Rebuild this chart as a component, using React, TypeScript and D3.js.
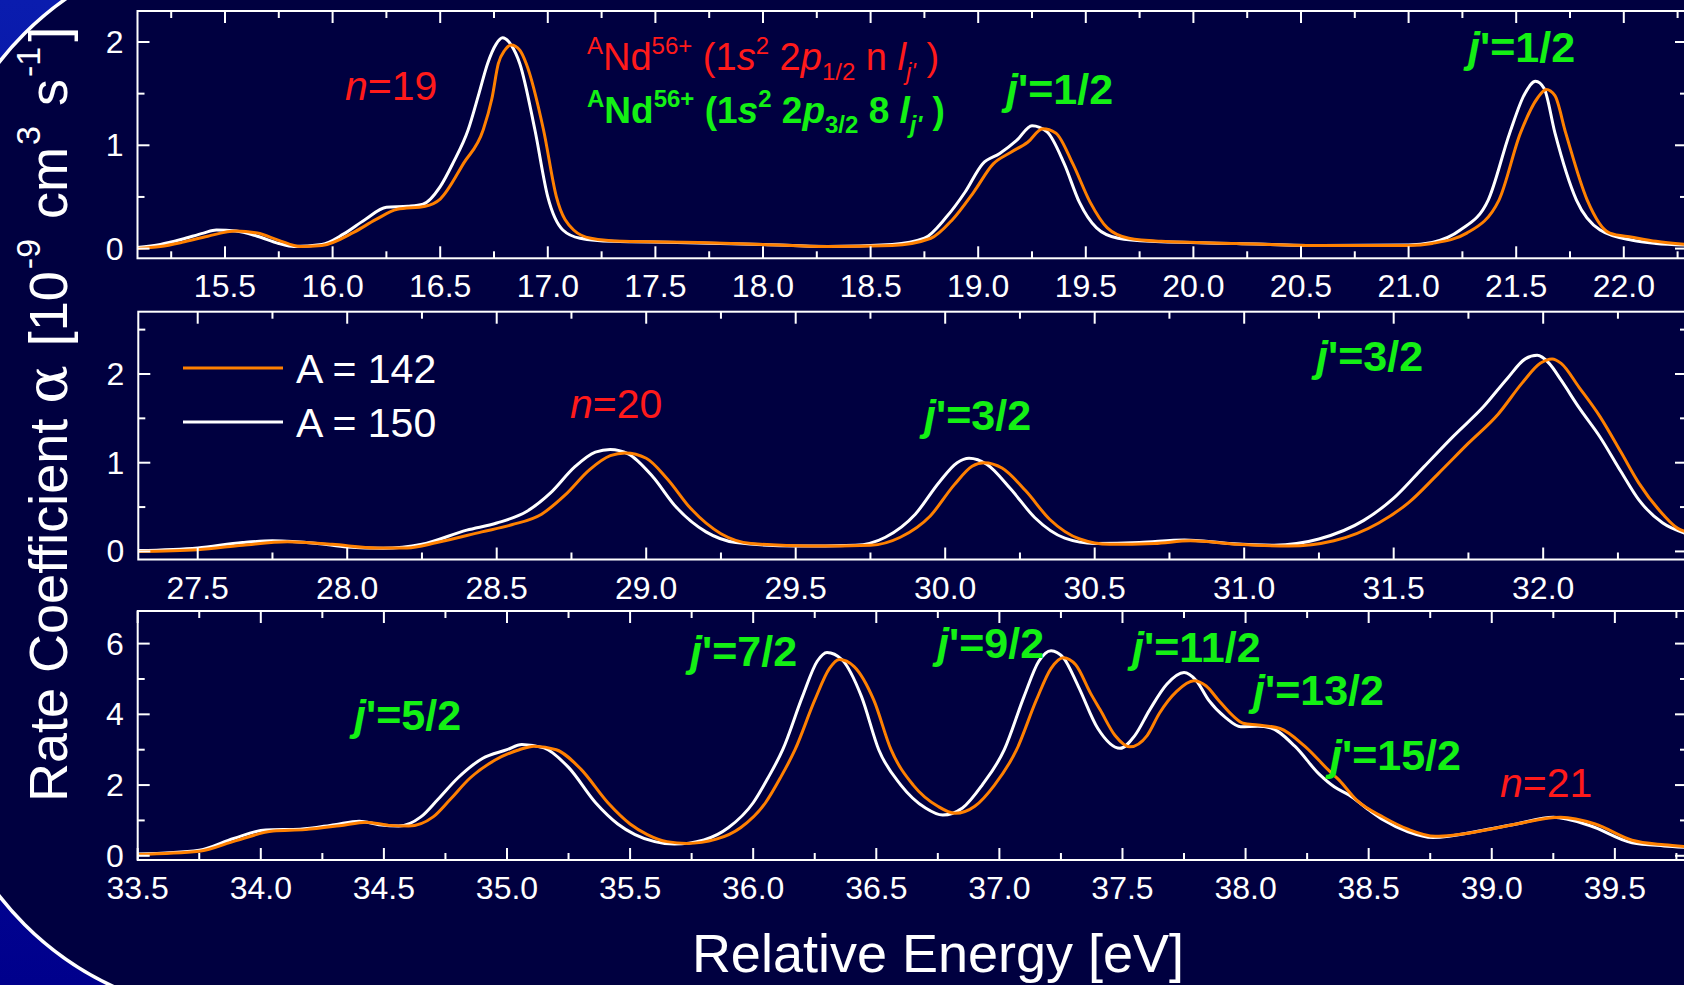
import React, { useEffect, useRef } from 'react';
import * as d3 from 'd3';

const W = 1684, H = 985;
const ORANGE = '#ff8000', RED = '#ff1a1a', GREEN = '#14f014', NAVY = '#000040';
const FONT = 'Liberation Sans, Arial, sans-serif';

// n=19 region  [energy eV, rate 1e-9 cm3/s]
const n19A142: [number, number][] = [[15.09, 0.0], [15.2, 0.02], [15.3, 0.06], [15.42, 0.12], [15.55, 0.17], [15.65, 0.15], [15.75, 0.08], [15.85, 0.02], [15.95, 0.03], [16.1, 0.16], [16.2, 0.28], [16.3, 0.38], [16.43, 0.41], [16.5, 0.48], [16.61, 0.83], [16.7, 1.15], [16.74, 1.45], [16.77, 1.79], [16.8, 1.92], [16.83, 1.97], [16.87, 1.92], [16.9, 1.79], [16.98, 1.15], [17.04, 0.5], [17.12, 0.18], [17.2, 0.1], [17.35, 0.07], [17.7, 0.06], [18.0, 0.04], [18.3, 0.02], [18.6, 0.03], [18.78, 0.1], [18.88, 0.28], [18.98, 0.55], [19.07, 0.82], [19.15, 0.93], [19.23, 1.03], [19.3, 1.16], [19.36, 1.12], [19.44, 0.82], [19.52, 0.45], [19.6, 0.2], [19.7, 0.1], [19.85, 0.07], [20.2, 0.05], [20.6, 0.03], [21.0, 0.03], [21.11, 0.05], [21.27, 0.15], [21.42, 0.47], [21.52, 1.12], [21.6, 1.46], [21.64, 1.54], [21.68, 1.48], [21.73, 1.12], [21.83, 0.47], [21.935, 0.15], [22.04, 0.11], [22.15, 0.07], [22.29, 0.04]];
const n19A150: [number, number][] = [[15.09, 0.01], [15.2, 0.04], [15.3, 0.09], [15.4, 0.15], [15.46, 0.18], [15.55, 0.17], [15.65, 0.12], [15.75, 0.05], [15.82, 0.02], [15.95, 0.04], [16.05, 0.14], [16.15, 0.28], [16.25, 0.4], [16.35, 0.41], [16.42, 0.43], [16.5, 0.6], [16.56, 0.83], [16.63, 1.15], [16.68, 1.5], [16.72, 1.79], [16.76, 1.98], [16.79, 2.04], [16.83, 1.97], [16.87, 1.79], [16.94, 1.15], [17.0, 0.5], [17.07, 0.18], [17.15, 0.1], [17.3, 0.07], [17.6, 0.06], [18.0, 0.04], [18.3, 0.02], [18.6, 0.04], [18.75, 0.1], [18.85, 0.3], [18.94, 0.55], [19.02, 0.82], [19.1, 0.92], [19.18, 1.05], [19.25, 1.19], [19.32, 1.13], [19.4, 0.82], [19.47, 0.45], [19.55, 0.2], [19.65, 0.1], [19.8, 0.07], [20.2, 0.05], [20.6, 0.03], [21.0, 0.035], [21.11, 0.06], [21.24, 0.18], [21.37, 0.47], [21.47, 1.12], [21.54, 1.5], [21.59, 1.62], [21.63, 1.55], [21.68, 1.12], [21.78, 0.47], [21.89, 0.18], [22.04, 0.08], [22.15, 0.05], [22.29, 0.035]];

// n=20 region
const n20A142: [number, number][] = [[27.3, 0.0], [27.5, 0.02], [27.65, 0.07], [27.8, 0.11], [27.95, 0.08], [28.1, 0.04], [28.2, 0.04], [28.3, 0.1], [28.45, 0.22], [28.55, 0.3], [28.65, 0.42], [28.73, 0.64], [28.81, 0.92], [28.88, 1.08], [28.93, 1.11], [29.0, 1.05], [29.07, 0.82], [29.15, 0.48], [29.25, 0.2], [29.35, 0.09], [29.55, 0.06], [29.75, 0.07], [29.85, 0.16], [29.95, 0.4], [30.03, 0.75], [30.09, 0.96], [30.13, 1.0], [30.19, 0.94], [30.27, 0.68], [30.35, 0.36], [30.45, 0.14], [30.55, 0.08], [30.7, 0.09], [30.82, 0.12], [30.98, 0.08], [31.15, 0.06], [31.3, 0.12], [31.45, 0.32], [31.55, 0.55], [31.65, 0.88], [31.75, 1.22], [31.85, 1.55], [31.93, 1.9], [31.99, 2.12], [32.03, 2.17], [32.06, 2.12], [32.12, 1.85], [32.19, 1.52], [32.26, 1.12], [32.32, 0.77], [32.4, 0.42], [32.45, 0.26], [32.48, 0.22]];
const n20A150: [number, number][] = [[27.3, 0.01], [27.5, 0.04], [27.65, 0.1], [27.75, 0.12], [27.9, 0.09], [28.0, 0.05], [28.12, 0.035], [28.25, 0.08], [28.4, 0.24], [28.5, 0.32], [28.6, 0.45], [28.68, 0.66], [28.76, 0.95], [28.83, 1.12], [28.88, 1.15], [28.94, 1.1], [29.02, 0.85], [29.1, 0.5], [29.2, 0.22], [29.3, 0.1], [29.5, 0.06], [29.7, 0.07], [29.8, 0.16], [29.9, 0.42], [29.98, 0.78], [30.04, 1.0], [30.08, 1.05], [30.14, 0.98], [30.22, 0.7], [30.3, 0.38], [30.4, 0.15], [30.5, 0.09], [30.65, 0.1], [30.8, 0.13], [30.95, 0.09], [31.1, 0.07], [31.25, 0.14], [31.4, 0.35], [31.5, 0.6], [31.6, 0.95], [31.7, 1.3], [31.8, 1.63], [31.88, 1.95], [31.94, 2.17], [31.98, 2.21], [32.02, 2.12], [32.06, 1.93], [32.12, 1.62], [32.19, 1.29], [32.26, 0.9], [32.32, 0.58], [32.4, 0.32], [32.48, 0.2]];

// n=8 (2p3/2) + n=21 region
const n21A142: [number, number][] = [[33.5, 0.04], [33.75, 0.13], [33.9, 0.43], [34.05, 0.7], [34.18, 0.74], [34.32, 0.85], [34.43, 0.95], [34.52, 0.86], [34.6, 0.84], [34.7, 1.1], [34.77, 1.6], [34.85, 2.2], [34.95, 2.7], [35.05, 3.0], [35.11, 3.1], [35.2, 3.0], [35.3, 2.45], [35.41, 1.5], [35.5, 0.9], [35.57, 0.6], [35.65, 0.4], [35.73, 0.35], [35.85, 0.47], [35.95, 0.8], [36.05, 1.5], [36.11, 2.2], [36.17, 3.0], [36.25, 4.4], [36.31, 5.3], [36.35, 5.55], [36.41, 5.35], [36.49, 4.4], [36.56, 3.0], [36.65, 2.0], [36.75, 1.4], [36.82, 1.2], [36.9, 1.4], [36.98, 2.0], [37.07, 3.0], [37.15, 4.4], [37.21, 5.3], [37.26, 5.6], [37.31, 5.4], [37.37, 4.6], [37.41, 4.12], [37.47, 3.4], [37.53, 3.08], [37.6, 3.4], [37.65, 4.03], [37.72, 4.65], [37.79, 4.95], [37.84, 4.8], [37.89, 4.4], [37.95, 3.95], [37.99, 3.75], [38.05, 3.7], [38.14, 3.6], [38.24, 3.1], [38.34, 2.4], [38.38, 2.14], [38.45, 1.58], [38.56, 1.09], [38.66, 0.75], [38.77, 0.55], [38.97, 0.72], [39.1, 0.9], [39.28, 1.09], [39.42, 0.9], [39.57, 0.44], [39.7, 0.31], [39.79, 0.26]];
const n21A150: [number, number][] = [[33.5, 0.05], [33.75, 0.16], [33.89, 0.49], [34.02, 0.73], [34.16, 0.75], [34.3, 0.88], [34.4, 0.98], [34.48, 0.88], [34.56, 0.84], [34.65, 1.1], [34.72, 1.6], [34.8, 2.2], [34.9, 2.75], [35.0, 3.0], [35.06, 3.15], [35.15, 3.05], [35.25, 2.5], [35.36, 1.5], [35.45, 0.9], [35.52, 0.6], [35.6, 0.4], [35.68, 0.33], [35.8, 0.45], [35.9, 0.8], [36.0, 1.5], [36.06, 2.2], [36.12, 3.0], [36.2, 4.5], [36.26, 5.5], [36.3, 5.75], [36.36, 5.55], [36.44, 4.5], [36.51, 3.0], [36.6, 2.0], [36.7, 1.35], [36.77, 1.15], [36.85, 1.35], [36.93, 2.0], [37.02, 3.0], [37.1, 4.5], [37.16, 5.5], [37.21, 5.8], [37.26, 5.6], [37.32, 4.8], [37.4, 3.6], [37.49, 3.04], [37.55, 3.4], [37.61, 4.12], [37.68, 4.85], [37.75, 5.18], [37.8, 4.95], [37.85, 4.4], [37.92, 3.9], [37.98, 3.65], [38.05, 3.66], [38.1, 3.62], [38.2, 3.1], [38.3, 2.3], [38.36, 1.95], [38.42, 1.72], [38.5, 1.3], [38.56, 1.01], [38.66, 0.68], [38.76, 0.52], [38.97, 0.73], [39.1, 0.9], [39.25, 1.09], [39.4, 0.85], [39.57, 0.37], [39.7, 0.28], [39.79, 0.24]];

const topYLabels = [0, 1, 2], topYMinor = [0.5, 1.5];
const midYLabels = [0, 1, 2], midYMinor = [0.5, 1.5, 2.5];
const botYLabels = [0, 2, 4, 6], botYMinor = [1, 3, 5];

const panels = [
  { x0: 137.5, x1: 1687, y0: 11, y1: 258.3, xd: [15.0934, 22.2937], yd: [-0.094, 2.3], yLab: topYLabels, yMin: topYMinor, a142: n19A142, a150: n19A150 },
  { x0: 138.3, x1: 1687, y0: 311.7, y1: 559.5, xd: [27.3013, 32.481], yd: [-0.091, 2.702], yLab: midYLabels, yMin: midYMinor, a142: n20A142, a150: n20A150 },
  { x0: 137.7, x1: 1687, y0: 611, y1: 860, xd: [33.5, 39.793], yd: [-0.119, 6.922], yLab: botYLabels, yMin: botYMinor, a142: n21A142, a150: n21A150 },
];

function jLabel(g: any, x: number, y: number, frac: string) {
  const t = g.append('text').attr('x', x).attr('y', y).attr('fill', GREEN)
    .attr('font-size', 43).attr('font-weight', 'bold').attr('font-family', FONT);
  t.append('tspan').attr('font-style', 'italic').text('j');
  t.append('tspan').text("'=" + frac);
}

function nLabel(g: any, x: number, y: number, n: string) {
  const t = g.append('text').attr('x', x).attr('y', y).attr('fill', RED)
    .attr('font-size', 41).attr('font-family', FONT);
  t.append('tspan').attr('font-style', 'italic').text('n');
  t.append('tspan').text('=' + n);
}

export default function App() {
  const ref = useRef<SVGSVGElement>(null);

  useEffect(() => {
    const svg = d3.select(ref.current);
    svg.selectAll('*').remove();

    const defs = svg.append('defs');
    const grad = defs.append('linearGradient').attr('id', 'bg').attr('x1', 0).attr('y1', 0).attr('x2', 0).attr('y2', 1);
    grad.append('stop').attr('offset', '0%').attr('stop-color', '#0a1cae');
    grad.append('stop').attr('offset', '100%').attr('stop-color', '#00008c');

    // slide background with rounded frame
    svg.append('rect').attr('width', W).attr('height', H).attr('fill', 'url(#bg)');
    svg.append('rect').attr('x', -66).attr('y', -57).attr('width', W + 400).attr('height', 1072)
      .attr('rx', 309).attr('ry', 309).attr('fill', NAVY).attr('stroke', 'white').attr('stroke-width', 3.5);

    panels.forEach((p, i) => {
      const x = d3.scaleLinear().domain(p.xd).range([p.x0, p.x1]);
      const y = d3.scaleLinear().domain(p.yd).range([p.y1, p.y0]);
      const g = svg.append('g');

      defs.append('clipPath').attr('id', 'clip' + i).append('rect')
        .attr('x', p.x0).attr('y', p.y0).attr('width', p.x1 - p.x0).attr('height', p.y1 - p.y0);

      const line = d3.line<[number, number]>().x(d => x(d[0])).y(d => y(d[1])).curve(d3.curveMonotoneX);
      const cg = g.append('g').attr('clip-path', `url(#clip${i})`);
      cg.append('path').attr('d', line(p.a150)).attr('fill', 'none').attr('stroke', 'white').attr('stroke-width', 3);
      cg.append('path').attr('d', line(p.a142)).attr('fill', 'none').attr('stroke', ORANGE).attr('stroke-width', 3);

      // frame
      g.append('rect').attr('x', p.x0).attr('y', p.y0).attr('width', p.x1 - p.x0).attr('height', p.y1 - p.y0)
        .attr('fill', 'none').attr('stroke', 'white').attr('stroke-width', 2);

      const lo = p.xd[0], hi = p.xd[1];
      const xMajor = d3.range(Math.ceil(lo * 2) / 2, hi + 1e-6, 0.5);
      const xMinor = d3.range(Math.ceil(lo * 4) / 4, hi + 1e-6, 0.25).filter(v => Math.abs(v * 2 - Math.round(v * 2)) > 1e-6);

      const tick = (x1: number, y1: number, x2: number, y2: number) =>
        g.append('line').attr('x1', x1).attr('y1', y1).attr('x2', x2).attr('y2', y2)
          .attr('stroke', 'white').attr('stroke-width', 2);

      xMajor.forEach(v => { tick(x(v), p.y1, x(v), p.y1 - 12); tick(x(v), p.y0, x(v), p.y0 + 12); });
      xMinor.forEach(v => { tick(x(v), p.y1, x(v), p.y1 - 7); tick(x(v), p.y0, x(v), p.y0 + 7); });
      p.yLab.forEach(v => { tick(p.x0, y(v), p.x0 + 12, y(v)); tick(p.x1, y(v), p.x1 - 12, y(v)); });
      p.yMin.forEach(v => { tick(p.x0, y(v), p.x0 + 7, y(v)); tick(p.x1, y(v), p.x1 - 7, y(v)); });

      g.selectAll('.xl').data(xMajor).enter().append('text')
        .attr('x', d => x(d)).attr('y', p.y1 + 39).attr('text-anchor', 'middle')
        .attr('fill', 'white').attr('font-size', 32).attr('font-family', FONT)
        .text(d => d3.format('.1f')(d));

      g.selectAll('.yl').data(p.yLab).enter().append('text')
        .attr('x', p.x0 - 14).attr('y', d => y(d) + 11).attr('text-anchor', 'end')
        .attr('fill', 'white').attr('font-size', 32).attr('font-family', FONT)
        .text(d => String(d));
    });

    // legend
    const lg = svg.append('g');
    lg.append('line').attr('x1', 183).attr('x2', 283).attr('y1', 368).attr('y2', 368).attr('stroke', ORANGE).attr('stroke-width', 3);
    lg.append('line').attr('x1', 183).attr('x2', 283).attr('y1', 422).attr('y2', 422).attr('stroke', 'white').attr('stroke-width', 3);
    lg.append('text').attr('x', 296).attr('y', 383).attr('fill', 'white').attr('font-size', 41).attr('font-family', FONT).text('A = 142');
    lg.append('text').attr('x', 296).attr('y', 437).attr('fill', 'white').attr('font-size', 41).attr('font-family', FONT).text('A = 150');

    // title lines
    const title = (yb: number, color: string, bold: boolean, fs: number, sub: string, nn: string) => {
      const ss = Math.round(fs * 0.64);
      const t = svg.append('text').attr('x', 587).attr('y', yb).attr('fill', color)
        .attr('font-size', fs).attr('font-family', FONT).attr('font-weight', bold ? 'bold' : 'normal');
      t.append('tspan').attr('font-size', ss).attr('dy', -16).text('A');
      t.append('tspan').attr('dy', 16).text('Nd');
      t.append('tspan').attr('font-size', ss).attr('dy', -16).text('56+');
      t.append('tspan').attr('dy', 16).text(' (1');
      t.append('tspan').attr('font-style', 'italic').text('s');
      t.append('tspan').attr('font-size', ss).attr('dy', -16).text('2');
      t.append('tspan').attr('dy', 16).text(' 2');
      t.append('tspan').attr('font-style', 'italic').text('p');
      t.append('tspan').attr('font-size', ss).attr('dy', 10).text(sub);
      t.append('tspan').attr('dy', -10).text(' ' + nn + ' ');
      t.append('tspan').attr('font-style', 'italic').text('l');
      t.append('tspan').attr('font-size', ss).attr('font-style', 'italic').attr('dy', 10).text("j'");
      t.append('tspan').attr('dy', -10).text(' )');
    };
    title(70, RED, false, 38, '1/2', 'n');
    title(123, GREEN, true, 37, '3/2', '8');

    nLabel(svg, 345, 100, '19');
    nLabel(svg, 570, 418, '20');
    nLabel(svg, 1500, 797, '21');

    jLabel(svg, 1006, 104, '1/2');
    jLabel(svg, 1468, 62, '1/2');
    jLabel(svg, 924, 430, '3/2');
    jLabel(svg, 1316, 371, '3/2');
    jLabel(svg, 354, 730, '5/2');
    jLabel(svg, 690, 666, '7/2');
    jLabel(svg, 937, 658, '9/2');
    jLabel(svg, 1132, 662, '11/2');
    jLabel(svg, 1253, 705, '13/2');
    jLabel(svg, 1330, 770, '15/2');

    // axis titles
    svg.append('text').attr('x', 938).attr('y', 972).attr('text-anchor', 'middle')
      .attr('fill', 'white').attr('font-size', 54).attr('font-family', FONT).text('Relative Energy [eV]');

    const yt = svg.append('text').attr('transform', 'translate(67,802) rotate(-90)').attr('text-anchor', 'start')
      .attr('fill', 'white').attr('font-size', 54).attr('font-family', FONT);
    yt.append('tspan').text('Rate Coefficient ');
    yt.append('tspan').attr('font-family', 'DejaVu Serif, serif').attr('font-size', 57).text('\u03b1');
    yt.append('tspan').attr('dx', 4).text(' [10');
    yt.append('tspan').attr('font-size', 34).attr('dy', -27).attr('dx', 2).text('-9');
    yt.append('tspan').attr('dy', 27).attr('dx', 5).text(' cm');
    yt.append('tspan').attr('font-size', 34).attr('dy', -27).attr('dx', 2).text('3');
    yt.append('tspan').attr('dy', 27).attr('dx', 5).text(' s');
    yt.append('tspan').attr('font-size', 34).attr('dy', -27).attr('dx', 2).text('-1');
    yt.append('tspan').attr('dy', 27).attr('dx', 5).text(']');
  }, []);

  return <svg ref={ref} width={W} height={H} style={{ position: 'absolute', left: 0, top: 0, display: 'block' }} />;
}
